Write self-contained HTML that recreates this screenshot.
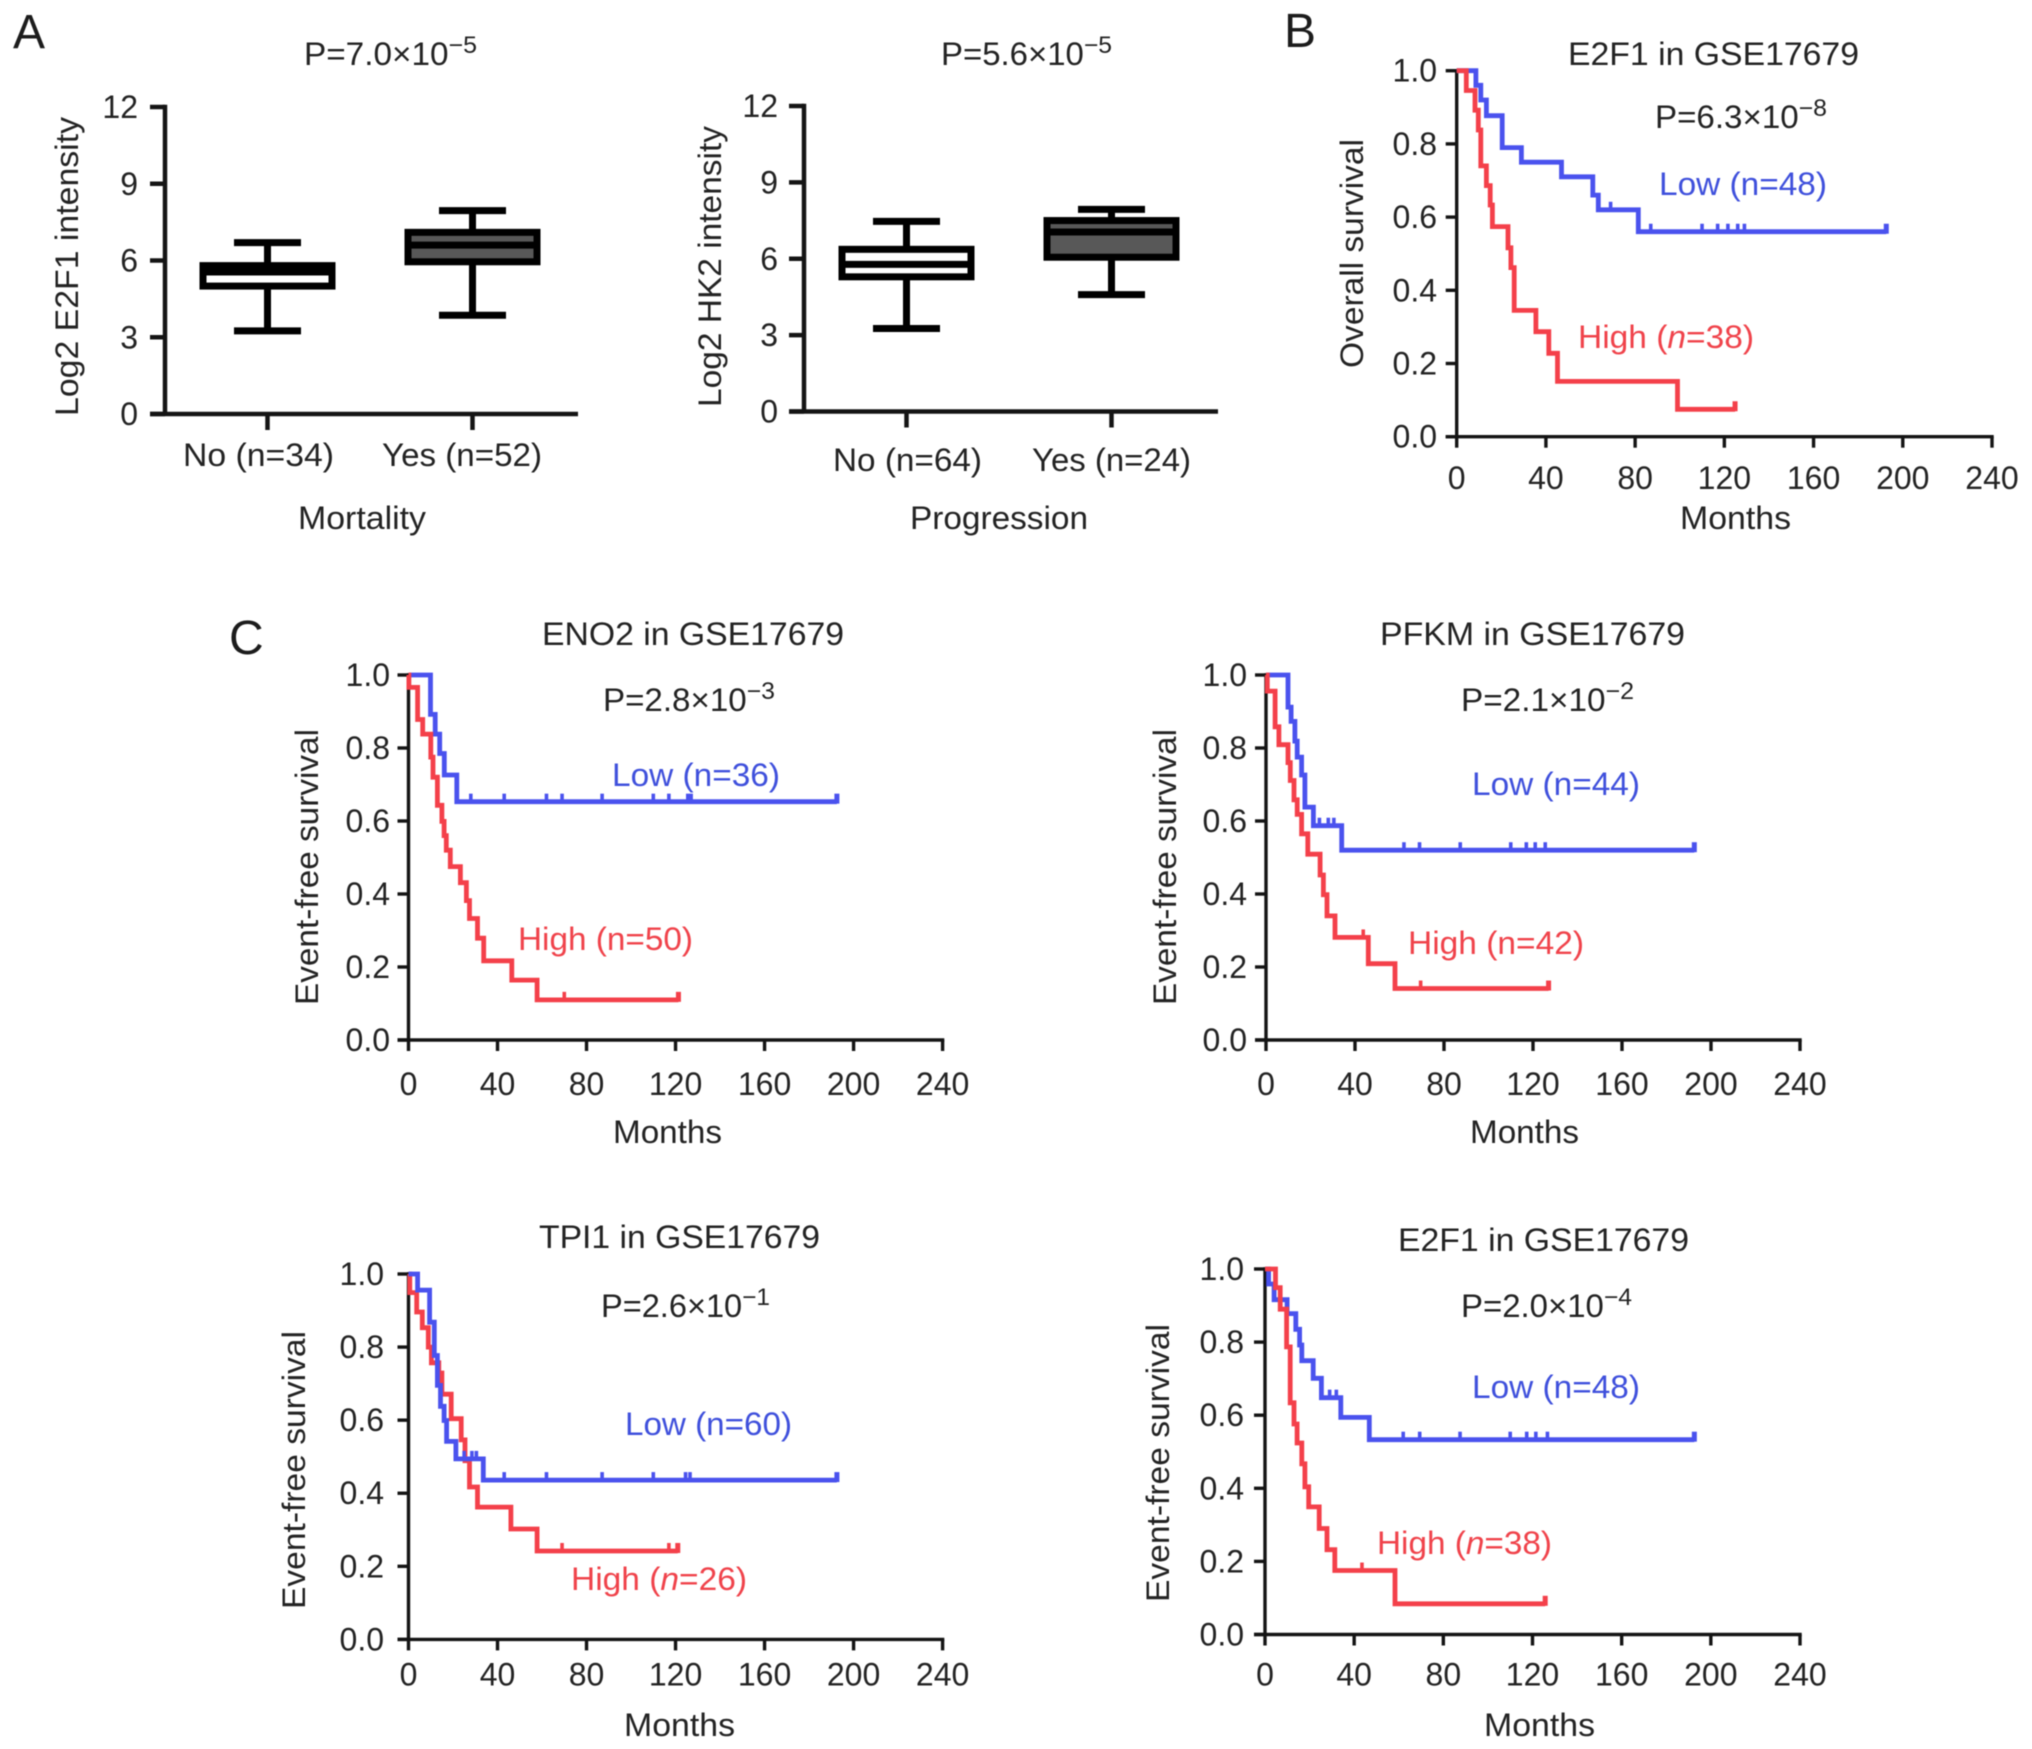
<!DOCTYPE html>
<html lang="en">
<head>
<meta charset="utf-8">
<title>E2F1 and glycolysis gene survival analysis in GSE17679</title>
<style>
html,body{margin:0;padding:0;background:#fff;}
svg{display:block;font-family:"Liberation Sans",Arial,sans-serif;filter:blur(0.6px);}
text{fill:#232323;font-size:32px;}
.letter{font-size:48px;fill:#1c1c1c;}
.blue{fill:#3f50dc;}
.red{fill:#f0434b;}
</style>
</head>
<body>
<svg id="figure" xmlns="http://www.w3.org/2000/svg" width="2032" height="1749" viewBox="0 0 2032 1749">
<rect width="2032" height="1749" fill="#fff"/>

<text class="letter" x="13" y="48">A</text>
<text class="letter" x="1284" y="47">B</text>
<text class="letter" x="229" y="654">C</text>

<g id="box-mortality">
<text x="304" y="65" textLength="173" lengthAdjust="spacingAndGlyphs">P=7.0×10<tspan dy="-12" style="font-size:24px">−5</tspan></text>
<text transform="translate(78,416) rotate(-90)" textLength="299" lengthAdjust="spacingAndGlyphs">Log2 E2F1 intensity</text>
<text x="183" y="466" textLength="151" lengthAdjust="spacingAndGlyphs">No (n=34)</text>
<text x="382" y="466" textLength="160" lengthAdjust="spacingAndGlyphs">Yes (n=52)</text>
<text x="298" y="529" textLength="128" lengthAdjust="spacingAndGlyphs">Mortality</text>
</g>

<g id="box-progression">
<text x="941" y="65" textLength="171" lengthAdjust="spacingAndGlyphs">P=5.6×10<tspan dy="-12" style="font-size:24px">−5</tspan></text>
<text transform="translate(721,407) rotate(-90)" textLength="281" lengthAdjust="spacingAndGlyphs">Log2 HK2 intensity</text>
<text x="833" y="471" textLength="149" lengthAdjust="spacingAndGlyphs">No (n=64)</text>
<text x="1032" y="471" textLength="159" lengthAdjust="spacingAndGlyphs">Yes (n=24)</text>
<text x="910" y="529" textLength="178" lengthAdjust="spacingAndGlyphs">Progression</text>
</g>

<g id="km-b">
<text x="1568" y="65" textLength="291" lengthAdjust="spacingAndGlyphs">E2F1 in GSE17679</text>
<text x="1655" y="128" textLength="172" lengthAdjust="spacingAndGlyphs">P=6.3×10<tspan dy="-12" style="font-size:24px">−8</tspan></text>
<text class="blue" x="1659" y="195" textLength="168" lengthAdjust="spacingAndGlyphs">Low (n=48)</text>
<text class="red" x="1578" y="348" textLength="176" lengthAdjust="spacingAndGlyphs">High (<tspan font-style="italic">n</tspan>=38)</text>
<text transform="translate(1363,368) rotate(-90)" textLength="229" lengthAdjust="spacingAndGlyphs">Overall survival</text>
<text x="1680" y="529" textLength="111" lengthAdjust="spacingAndGlyphs">Months</text>
</g>

<g id="km-eno2">
<text x="542" y="645" textLength="302" lengthAdjust="spacingAndGlyphs">ENO2 in GSE17679</text>
<text x="603" y="711" textLength="172" lengthAdjust="spacingAndGlyphs">P=2.8×10<tspan dy="-12" style="font-size:24px">−3</tspan></text>
<text class="blue" x="612" y="786" textLength="168" lengthAdjust="spacingAndGlyphs">Low (n=36)</text>
<text class="red" x="518" y="950" textLength="175" lengthAdjust="spacingAndGlyphs">High (n=50)</text>
<text transform="translate(318,1005) rotate(-90)" textLength="276" lengthAdjust="spacingAndGlyphs">Event-free survival</text>
<text x="613" y="1143" textLength="109" lengthAdjust="spacingAndGlyphs">Months</text>
</g>

<g id="km-pfkm">
<text x="1380" y="645" textLength="305" lengthAdjust="spacingAndGlyphs">PFKM in GSE17679</text>
<text x="1461" y="711" textLength="173" lengthAdjust="spacingAndGlyphs">P=2.1×10<tspan dy="-12" style="font-size:24px">−2</tspan></text>
<text class="blue" x="1472" y="795" textLength="168" lengthAdjust="spacingAndGlyphs">Low (n=44)</text>
<text class="red" x="1408" y="954" textLength="176" lengthAdjust="spacingAndGlyphs">High (n=42)</text>
<text transform="translate(1176,1005) rotate(-90)" textLength="276" lengthAdjust="spacingAndGlyphs">Event-free survival</text>
<text x="1470" y="1143" textLength="109" lengthAdjust="spacingAndGlyphs">Months</text>
</g>

<g id="km-tpi1">
<text x="539" y="1248" textLength="281" lengthAdjust="spacingAndGlyphs">TPI1 in GSE17679</text>
<text x="601" y="1317" textLength="169" lengthAdjust="spacingAndGlyphs">P=2.6×10<tspan dy="-12" style="font-size:24px">−1</tspan></text>
<text class="blue" x="625" y="1435" textLength="167" lengthAdjust="spacingAndGlyphs">Low (n=60)</text>
<text class="red" x="571" y="1590" textLength="176" lengthAdjust="spacingAndGlyphs">High (<tspan font-style="italic">n</tspan>=26)</text>
<text transform="translate(305,1609) rotate(-90)" textLength="278" lengthAdjust="spacingAndGlyphs">Event-free survival</text>
<text x="624" y="1736" textLength="111" lengthAdjust="spacingAndGlyphs">Months</text>
</g>

<g id="km-e2f1">
<text x="1398" y="1251" textLength="291" lengthAdjust="spacingAndGlyphs">E2F1 in GSE17679</text>
<text x="1461" y="1317" textLength="171" lengthAdjust="spacingAndGlyphs">P=2.0×10<tspan dy="-12" style="font-size:24px">−4</tspan></text>
<text class="blue" x="1472" y="1398" textLength="168" lengthAdjust="spacingAndGlyphs">Low (n=48)</text>
<text class="red" x="1377" y="1554" textLength="175" lengthAdjust="spacingAndGlyphs">High (<tspan font-style="italic">n</tspan>=38)</text>
<text transform="translate(1169,1602) rotate(-90)" textLength="278" lengthAdjust="spacingAndGlyphs">Event-free survival</text>
<text x="1484" y="1736" textLength="111" lengthAdjust="spacingAndGlyphs">Months</text>
</g>
</svg>

<script>
// ---------- tick labels ----------
const boxYTicks = [0, 3, 6, 9, 12];
const monthTicks = [0, 40, 80, 120, 160, 200, 240];
const survivalTicks = [0, 0.2, 0.4, 0.6, 0.8, 1];

// ---------- panel A: box plots (No, Yes) ----------
const mortalityWhiskerLow = [3.25, 3.86];
const mortalityQ1 = [5.0, 5.95];
const mortalityMedian = [5.55, 6.6];
const mortalityQ3 = [5.8, 7.1];
const mortalityWhiskerHigh = [6.7, 7.95];

const progressionWhiskerLow = [3.26, 4.59];
const progressionQ1 = [5.29, 6.06];
const progressionMedian = [5.78, 7.05];
const progressionQ3 = [6.37, 7.5];
const progressionWhiskerHigh = [7.47, 7.94];

// ---------- panel B: E2F1 overall survival ----------
const bLowMonths = [8.6, 10.8, 13.3, 20.4, 29, 47, 61, 63.5, 81.4, 192.6];
const bLowSurvival = [0.96, 0.92, 0.877, 0.79, 0.75, 0.71, 0.66, 0.62, 0.56, 0.56];
const bLowCensored = [69, 87, 110, 117, 121.6, 126, 129, 192.6];
const bHighMonths = [4.3, 8.2, 9.7, 10.8, 13.3, 15, 16, 23, 24.3, 25.8, 35.5, 41.3, 45.2, 99, 124.8];
const bHighSurvival = [0.946, 0.892, 0.838, 0.74, 0.686, 0.633, 0.574, 0.516, 0.462, 0.345, 0.287, 0.228, 0.151, 0.075, 0.075];
const bHighCensored = [124.8];

// ---------- panel C: ENO2 ----------
const eno2LowMonths = [9.9, 12, 14, 16.1, 21.7, 192.5];
const eno2LowSurvival = [0.892, 0.838, 0.785, 0.726, 0.653, 0.653];
const eno2LowCensored = [28, 43, 62, 69, 87, 110, 117, 125.5, 127, 192.5];
const eno2HighMonths = [0.2, 4.1, 6.4, 10, 11, 13, 15, 16, 17, 18.8, 23.3, 26, 27.4, 31, 33.8, 46.4, 57.8, 121.3];
const eno2HighSurvival = [0.966, 0.878, 0.838, 0.775, 0.72, 0.643, 0.599, 0.56, 0.52, 0.475, 0.431, 0.382, 0.333, 0.279, 0.217, 0.164, 0.11, 0.11];
const eno2HighCensored = [70, 121.3];

// ---------- panel C: PFKM ----------
const pfkmLowMonths = [9.9, 11.3, 13, 14, 16, 17.5, 21.3, 34, 192.5];
const pfkmLowSurvival = [0.912, 0.873, 0.819, 0.775, 0.726, 0.638, 0.587, 0.52, 0.52];
const pfkmLowCensored = [24, 28, 30.5, 62, 69, 87.3, 110, 117, 121, 125.5, 192.5];
const pfkmHighMonths = [0.6, 4.1, 5.8, 9.9, 10.9, 12.6, 14, 16, 18.8, 24.3, 25.8, 27.4, 31, 46, 58, 127];
const pfkmHighSurvival = [0.956, 0.858, 0.809, 0.76, 0.711, 0.658, 0.618, 0.565, 0.509, 0.452, 0.398, 0.34, 0.281, 0.209, 0.141, 0.141];
const pfkmHighCensored = [43.7, 69.5, 127];

// ---------- panel C: TPI1 ----------
const tpi1LowMonths = [4.1, 9.5, 11.6, 13, 14.4, 16, 17.1, 21.3, 33.6, 192.5];
const tpi1LowSurvival = [0.956, 0.868, 0.777, 0.695, 0.638, 0.599, 0.542, 0.494, 0.436, 0.436];
const tpi1LowCensored = [25, 28.5, 30.5, 43, 62, 87, 110, 124.5, 126.5, 192.5];
const tpi1HighMonths = [0.6, 3.7, 6.2, 8.9, 10.3, 13.6, 15, 19.2, 23.7, 25.4, 27.4, 31, 46, 57.8, 121];
const tpi1HighSurvival = [0.949, 0.896, 0.853, 0.8, 0.757, 0.729, 0.671, 0.604, 0.546, 0.489, 0.417, 0.362, 0.302, 0.242, 0.242];
const tpi1HighCensored = [69, 117, 121];

// ---------- panel C: E2F1 ----------
const e2f1LowMonths = [1.6, 4.1, 9.9, 13.8, 15.5, 16.5, 21.6, 25.3, 34, 46.8, 192.6];
const e2f1LowSurvival = [0.959, 0.916, 0.878, 0.835, 0.792, 0.749, 0.701, 0.648, 0.594, 0.533, 0.533];
const e2f1LowCensored = [29, 32, 62, 69.4, 87.5, 110, 117.4, 121.5, 126.7, 192.6];
const e2f1HighMonths = [4.7, 6.8, 9.7, 11.3, 13, 14.4, 16.5, 17.9, 19.6, 24.3, 27.8, 31.3, 58.3, 125.7];
const e2f1HighSurvival = [0.949, 0.89, 0.787, 0.634, 0.576, 0.524, 0.467, 0.404, 0.349, 0.29, 0.232, 0.175, 0.084, 0.084];
const e2f1HighCensored = [43.5, 125.7];

// ---------- drawing ----------
const SVG_NS = 'http://www.w3.org/2000/svg';
const INK = '#141414';
const LOW_COLOR = '#4a52ee';
const HIGH_COLOR = '#f4404a';

function make(parent, tag, attrs) {
  const el = document.createElementNS(SVG_NS, tag);
  for (const k in attrs) el.setAttribute(k, attrs[k]);
  parent.appendChild(el);
  return el;
}

function segment(parent, x1, y1, x2, y2, color, width, name) {
  const el = make(parent, 'line', {x1: x1, y1: y1, x2: x2, y2: y2, stroke: color, 'stroke-width': width});
  
  
  return el;
}

function tickLabel(parent, x, y, anchor, value, name) {
  const el = make(parent, 'text', {x: x, y: y, 'text-anchor': anchor});
  
  
  el.textContent = value;
  return el;
}

function drawBoxPlot(layout, whiskerLow, q1, median, q3, whiskerHigh) {
  const g = document.getElementById(layout.id);
  const yScale = v => layout.y0 - v * (layout.y0 - layout.yTop) / 12;
  const xBand = i => layout.x0 + (i + 0.5) * layout.band;
  const axisWidth = 4.5;
  const boxStroke = 7;
  const boxW = 129;
  const capW = 67;

  segment(g, layout.x0, yScale(12) - axisWidth / 2, layout.x0, layout.y0, INK, axisWidth, 'y-axis-line');
  segment(g, layout.x0 - 15, layout.y0, layout.xEnd, layout.y0, INK, axisWidth, 'x-axis-line');
  boxYTicks.forEach(v => {
    segment(g, layout.x0 - 15, yScale(v), layout.x0, yScale(v), INK, axisWidth, 'y-axis-tick');
    tickLabel(g, layout.labelRight, yScale(v) + 11, 'end', String(v), 'y-tick-label');
  });

  q1.forEach((_, i) => {
    const cx = xBand(i);
    segment(g, cx, layout.y0, cx, layout.y0 + 16, INK, axisWidth, 'x-axis-tick');
    segment(g, cx, yScale(whiskerHigh[i]), cx, yScale(whiskerLow[i]), '#000', boxStroke, 'whisker');
    segment(g, cx - capW / 2, yScale(whiskerHigh[i]), cx + capW / 2, yScale(whiskerHigh[i]), '#000', boxStroke, 'whisker-cap-high');
    segment(g, cx - capW / 2, yScale(whiskerLow[i]), cx + capW / 2, yScale(whiskerLow[i]), '#000', boxStroke, 'whisker-cap-low');
    const box = make(g, 'rect', {
      x: cx - boxW / 2,
      y: yScale(q3[i]),
      width: boxW,
      height: yScale(q1[i]) - yScale(q3[i]),
      fill: i === 0 ? '#ffffff' : '#585858',
      stroke: '#000',
      'stroke-width': boxStroke
    });
    
    
    segment(g, cx - boxW / 2, yScale(median[i]), cx + boxW / 2, yScale(median[i]), '#000', boxStroke, 'median-line');
  });
}

function survivalAt(months, survival, t) {
  let s = 1;
  for (let i = 0; i < months.length; i++) {
    if (months[i] <= t) s = survival[i];
  }
  return s;
}

function drawSeries(g, months, survival, censored, color, name, xScale, yScale) {
  let d = 'M' + xScale(0) + ' ' + yScale(1);
  months.forEach((t, i) => {
    d += 'H' + xScale(t).toFixed(1) + 'V' + yScale(survival[i]).toFixed(1);
  });
  const curve = make(g, 'path', {d: d, fill: 'none', stroke: color, 'stroke-width': 4.8, 'stroke-linejoin': 'miter'});
  
  
  censored.forEach((t, i) => {
    const x = xScale(t);
    const y = yScale(survivalAt(months, survival, t));
    const last = i === censored.length - 1;
    const mark = segment(g, x, y - 8, x, last ? y + 2 : y, color, last ? 5 : 3.6, 'censor-mark');
    mark.setAttribute('stroke-linecap', 'butt');
  });
}

function drawKaplanMeier(layout, seriesList) {
  const g = document.getElementById(layout.id);
  const xScale = m => layout.x0 + m * (layout.xEnd - layout.x0) / 240;
  const yScale = s => layout.y0 - s * (layout.y0 - layout.yTop);
  const axisWidth = 3.4;

  segment(g, layout.x0, layout.yTop - axisWidth / 2, layout.x0, layout.y0, INK, axisWidth, 'y-axis-line');
  segment(g, layout.x0 - 11, layout.y0, layout.xEnd + axisWidth / 2, layout.y0, INK, axisWidth, 'x-axis-line');
  survivalTicks.forEach(v => {
    segment(g, layout.x0 - 11, yScale(v), layout.x0, yScale(v), INK, axisWidth, 'y-axis-tick');
    tickLabel(g, layout.labelRight, yScale(v) + 11, 'end', v.toFixed(1), 'y-tick-label');
  });
  monthTicks.forEach(m => {
    segment(g, xScale(m), layout.y0, xScale(m), layout.y0 + 11, INK, axisWidth, 'x-axis-tick');
    tickLabel(g, xScale(m), layout.xLabelY, 'middle', String(m), 'x-tick-label');
  });
  seriesList.forEach(s => {
    drawSeries(g, s.months, s.survival, s.censored, s.color, s.name, xScale, yScale);
  });
}

const mortalityLayout = {id: 'box-mortality', x0: 165, xEnd: 578, y0: 414, yTop: 107, band: 205, labelRight: 138};
const progressionLayout = {id: 'box-progression', x0: 804, xEnd: 1218, y0: 411.5, yTop: 106, band: 205, labelRight: 778};
const bLayout = {id: 'km-b', x0: 1456.7, xEnd: 1992, y0: 436.7, yTop: 70.7, labelRight: 1437, xLabelY: 489};
const eno2Layout = {id: 'km-eno2', x0: 408.5, xEnd: 942.6, y0: 1040, yTop: 675, labelRight: 390, xLabelY: 1095};
const pfkmLayout = {id: 'km-pfkm', x0: 1266, xEnd: 1800, y0: 1040, yTop: 675, labelRight: 1247, xLabelY: 1095};
const tpi1Layout = {id: 'km-tpi1', x0: 408.5, xEnd: 942.6, y0: 1639.4, yTop: 1274, labelRight: 384, xLabelY: 1685.5};
const e2f1Layout = {id: 'km-e2f1', x0: 1265, xEnd: 1800, y0: 1634.5, yTop: 1269, labelRight: 1244, xLabelY: 1685.5};

drawBoxPlot(mortalityLayout, mortalityWhiskerLow, mortalityQ1, mortalityMedian, mortalityQ3, mortalityWhiskerHigh);
drawBoxPlot(progressionLayout, progressionWhiskerLow, progressionQ1, progressionMedian, progressionQ3, progressionWhiskerHigh);

drawKaplanMeier(bLayout, [
  {months: bLowMonths, survival: bLowSurvival, censored: bLowCensored, color: LOW_COLOR, name: 'low-expression-curve'},
  {months: bHighMonths, survival: bHighSurvival, censored: bHighCensored, color: HIGH_COLOR, name: 'high-expression-curve'}
]);
drawKaplanMeier(eno2Layout, [
  {months: eno2LowMonths, survival: eno2LowSurvival, censored: eno2LowCensored, color: LOW_COLOR, name: 'low-expression-curve'},
  {months: eno2HighMonths, survival: eno2HighSurvival, censored: eno2HighCensored, color: HIGH_COLOR, name: 'high-expression-curve'}
]);
drawKaplanMeier(pfkmLayout, [
  {months: pfkmLowMonths, survival: pfkmLowSurvival, censored: pfkmLowCensored, color: LOW_COLOR, name: 'low-expression-curve'},
  {months: pfkmHighMonths, survival: pfkmHighSurvival, censored: pfkmHighCensored, color: HIGH_COLOR, name: 'high-expression-curve'}
]);
drawKaplanMeier(tpi1Layout, [
  {months: tpi1HighMonths, survival: tpi1HighSurvival, censored: tpi1HighCensored, color: HIGH_COLOR, name: 'high-expression-curve'},
  {months: tpi1LowMonths, survival: tpi1LowSurvival, censored: tpi1LowCensored, color: LOW_COLOR, name: 'low-expression-curve'}
]);
drawKaplanMeier(e2f1Layout, [
  {months: e2f1LowMonths, survival: e2f1LowSurvival, censored: e2f1LowCensored, color: LOW_COLOR, name: 'low-expression-curve'},
  {months: e2f1HighMonths, survival: e2f1HighSurvival, censored: e2f1HighCensored, color: HIGH_COLOR, name: 'high-expression-curve'}
]);
</script>
</body>
</html>
